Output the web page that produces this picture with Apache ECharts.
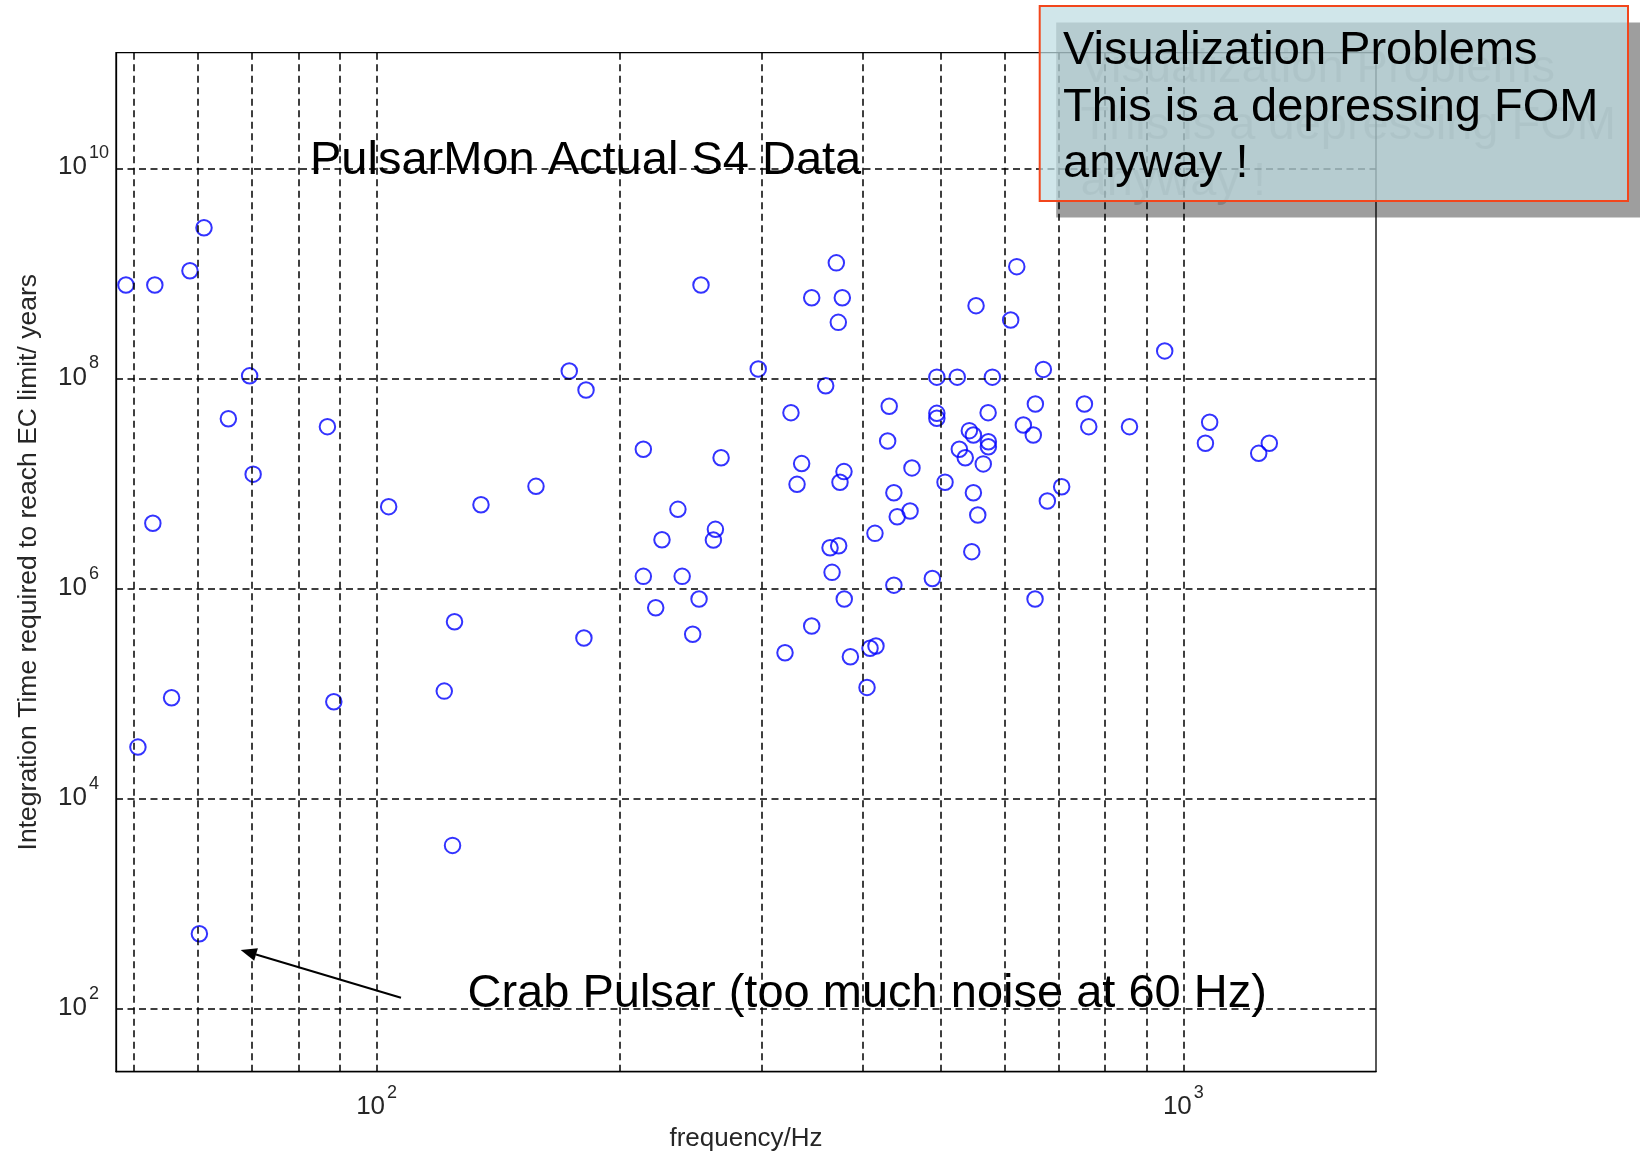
<!DOCTYPE html>
<html>
<head>
<meta charset="utf-8">
<title>PulsarMon Actual S4 Data</title>
<script src="https://cdn.jsdelivr.net/npm/echarts@6/dist/echarts.min.js"></script>
<style>
  html, body { margin: 0; padding: 0; background: #ffffff; }
  #chart { width: 1640px; height: 1155px; }
</style>
</head>
<body>
<div id="chart"></div>
<script>
// Pulsar gravitational-wave frequency (Hz)
const freqHz = [
  48.9, 53.1, 58.7, 61.1, 69.6, 65.5, 86.9, 70.3, 52.8, 103.5,
  134.7, 157.6, 124.9, 55.7, 88.5, 121.3, 50.6, 124.2, 60.3, 173.3,
  181.8, 252.4, 297.2, 371.4, 346.2, 377.8, 373.5, 553.4, 360.3, 326.3,
  431.9, 494.8, 524.5, 579.8, 494.8, 494.8, 430.0, 572.8, 542.9, 549.2,
  527.6, 536.6, 564.9, 573.2, 573.2, 214.1, 267.3, 336.4, 332.0, 379.6,
  375.3, 460.9, 506.5, 437.7, 549.2, 556.1, 458.4, 441.9, 414.7, 546.7,
  236.3, 263.0, 261.5, 225.8, 214.1, 239.2, 251.0, 221.8, 180.7, 246.5,
  364.8, 373.9, 366.9, 379.9, 346.2, 320.8, 386.6, 408.9, 415.9, 437.7,
  488.5, 405.4, 621.6, 610.9, 948.2, 670.6, 655.5, 754.0, 633.4, 651.6,
  763.4, 857.5, 1078, 1065, 1278, 1240, 706.6, 678.3, 654.9
];

// Integration time required to reach the EC limit (years)
const yearsToEC = [
  7.75e8, 7.75e8, 1.06e9, 2.72e9, 1.06e8, 4.14e7, 3.48e7, 1.23e7, 4.19e6, 6.03e6,
  6.29e6, 9.42e6, 4.85e5, 9.17e4, 8.40e4, 1.06e5, 3.11e4, 3.61e3, 521, 1.18e8,
  7.77e7, 7.75e8, 1.23e8, 1.26e9, 5.87e8, 5.87e8, 3.42e8, 4.93e8, 8.54e7, 4.73e7,
  5.44e7, 1.03e8, 1.03e8, 1.03e8, 4.66e7, 4.18e7, 2.54e7, 4.73e7, 3.19e7, 2.90e7,
  2.12e7, 1.76e7, 1.54e7, 2.50e7, 2.24e7, 2.12e7, 1.76e7, 1.55e7, 9.84e6, 1.30e7,
  1.03e7, 1.41e7, 1.03e7, 8.19e6, 8.19e6, 5.02e6, 5.48e6, 4.84e6, 3.36e6, 2.25e6,
  5.69e6, 3.67e6, 2.90e6, 2.92e6, 1.31e6, 1.31e6, 7.97e5, 6.59e5, 3.39e5, 3.68e5,
  2.45e6, 2.56e6, 1.43e6, 7.97e5, 4.41e5, 2.46e5, 2.25e5, 2.71e5, 2.85e5, 1.08e6,
  1.25e6, 1.15e5, 1.16e9, 3.60e8, 1.83e8, 1.22e8, 5.72e7, 5.72e7, 3.61e7, 2.90e7,
  3.48e7, 3.48e7, 3.83e7, 2.42e7, 2.42e7, 1.94e7, 9.34e6, 6.83e6, 7.97e5
];

// Axis ranges
const xRange = [47.53, 1733];
const yRange = [25.35, 1.259e11];

// Dashed grid positions
const xGridValues = [50, 60, 70, 80, 90, 100, 200, 300, 400, 500, 600, 700, 800, 900, 1000];
const yGridValues = [1e2, 1e4, 1e6, 1e8, 1e10];

// Labelled powers of ten
const xLabelExponents = [2, 3];
const yLabelExponents = [2, 4, 6, 8, 10];

// Texts
const xTitle = 'frequency/Hz';
const yTitle = 'Integration Time required to reach EC limit/ years';
const plotTitle = 'PulsarMon Actual S4 Data';
const crabNote = 'Crab Pulsar (too much noise at 60 Hz)';
const calloutLines = ['Visualization Problems', 'This is a depressing FOM', 'anyway !'];

const TICK_FONT = '"Liberation Sans Narrow", "Arial Narrow", "Liberation Sans", Arial, sans-serif';
const TEXT_FONT = '"Liberation Sans", Arial, Helvetica, sans-serif';
const AXIS_TEXT = '#262626';

function powerLabel(value, shown, key) {
  const lg = Math.log10(value);
  const e = Math.round(lg);
  if (Math.abs(lg - e) > 1e-6 || shown.indexOf(e) < 0) return '';
  return '{b|10}{' + key + '|' + e + '}';
}

const baseRich = {
  b: { fontFamily: TICK_FONT, fontSize: 26, color: AXIS_TEXT, verticalAlign: 'bottom', padding: [10, 0, 0, 0] }
};
const expStyle = { fontFamily: TICK_FONT, fontSize: 18, color: AXIS_TEXT, verticalAlign: 'top', padding: [0, 0, 0, 2] };

const points = freqHz.map((f, i) => [f, yearsToEC[i]]);

const dash = [7, 4.5];
const gridLineData = xGridValues.map(v => ({ xAxis: v }))
  .concat(yGridValues.map(v => ({ yAxis: v })));

// Arrow for the Crab note
const arrowTail = [401, 997.7];
const arrowTip = [240.7, 950];
const headLen = 16, headHalf = 6.5;
const adx = arrowTip[0] - arrowTail[0], ady = arrowTip[1] - arrowTail[1];
const alen = Math.hypot(adx, ady);
const ux = adx / alen, uy = ady / alen;
const hbx = arrowTip[0] - ux * headLen, hby = arrowTip[1] - uy * headLen;
const arrowHead = [
  arrowTip,
  [hbx - uy * headHalf, hby + ux * headHalf],
  [hbx + uy * headHalf, hby - ux * headHalf]
];

// Callout box geometry
const box = { x: 1039.7, y: 6, w: 588.3, h: 195 };
const shadowOffset = 16.5;
const lineMid = [51, 107.7, 164.4];
const textLeft = 1063;

function textEl(str, x, y, fill, z) {
  return {
    type: 'text', z: z, silent: true,
    style: { text: str, x: x, y: y, font: '47px ' + TEXT_FONT, fill: fill,
             textAlign: 'left', textVerticalAlign: 'middle', align: 'left', verticalAlign: 'middle' }
  };
}

const graphics = [
  textEl(plotTitle, 310, 161.5, '#000', 20),
  textEl(crabNote, 467.5, 994, '#000', 20),
  {
    type: 'line', z: 20, silent: true,
    shape: { x1: arrowTail[0], y1: arrowTail[1], x2: hbx, y2: hby },
    style: { stroke: '#000', lineWidth: 2 }
  },
  {
    type: 'polygon', z: 20, silent: true,
    shape: { points: arrowHead },
    style: { fill: '#000' }
  },
  {
    type: 'rect', z: 30, silent: true,
    shape: { x: box.x + shadowOffset, y: box.y + shadowOffset, width: box.w + 40, height: box.h },
    style: { fill: 'rgba(0,0,0,0.38)' }
  }
];

calloutLines.forEach((t, i) => {
  graphics.push(textEl(t, textLeft + 17.5, lineMid[i] + 18, 'rgba(0,0,0,0.17)', 31));
});

graphics.push({
  type: 'rect', z: 32, silent: true,
  shape: { x: box.x, y: box.y, width: box.w, height: box.h },
  style: { fill: 'rgba(190,221,226,0.73)', stroke: '#F2461C', lineWidth: 2 }
});

calloutLines.forEach((t, i) => {
  graphics.push(textEl(t, textLeft, lineMid[i], '#000', 33));
});

const chart = echarts.init(document.getElementById('chart'), null, { renderer: 'canvas', width: 1640, height: 1155 });

chart.setOption({
  animation: false,
  backgroundColor: '#ffffff',
  grid: {
    left: 116, right: 264, top: 52.7, bottom: 83.3,
    show: true, borderColor: '#000', borderWidth: 1.3, backgroundColor: 'transparent',
    containLabel: false, outerBoundsMode: 'none'
  },
  xAxis: {
    type: 'log', logBase: 10, min: xRange[0], max: xRange[1],
    name: xTitle, nameLocation: 'middle', nameGap: 54,
    nameTextStyle: { fontFamily: TEXT_FONT, fontSize: 26, color: AXIS_TEXT },
    axisLine: { show: true, onZero: false, lineStyle: { color: '#000', width: 1.3 } },
    axisTick: { show: false },
    splitLine: { show: false },
    minorTick: { show: false },
    minorSplitLine: { show: false },
    axisLabel: {
      margin: 12, showMinLabel: false, showMaxLabel: false,
      formatter: v => powerLabel(v, xLabelExponents, 'x'),
      rich: Object.assign({ x: expStyle }, baseRich)
    }
  },
  yAxis: {
    type: 'log', logBase: 10, min: yRange[0], max: yRange[1],
    name: yTitle, nameLocation: 'middle', nameGap: 74,
    nameTextStyle: { fontFamily: TEXT_FONT, fontSize: 26.5, color: AXIS_TEXT },
    axisLine: { show: true, onZero: false, lineStyle: { color: '#000', width: 1.3 } },
    axisTick: { show: false },
    splitLine: { show: false },
    minorTick: { show: false },
    minorSplitLine: { show: false },
    axisLabel: {
      margin: 58, align: 'left', showMinLabel: false, showMaxLabel: false,
      padding: [0, 0, 12, 0],
      formatter: v => powerLabel(v, yLabelExponents, 'y'),
      rich: Object.assign({ y: expStyle }, baseRich)
    }
  },
  series: [{
    type: 'scatter',
    data: points,
    symbol: 'circle',
    symbolSize: 15.5,
    silent: true,
    itemStyle: { color: 'rgba(0,0,0,0)', borderColor: '#0000ff', borderWidth: 2 },
    emphasis: { disabled: true },
    markLine: {
      silent: true,
      symbol: ['none', 'none'],
      label: { show: false },
      emphasis: { disabled: true },
      lineStyle: { color: '#000', width: 1.5, type: dash, opacity: 1 },
      data: gridLineData
    },
    z: 3
  }],
  graphic: graphics
});
</script>
</body>
</html>
